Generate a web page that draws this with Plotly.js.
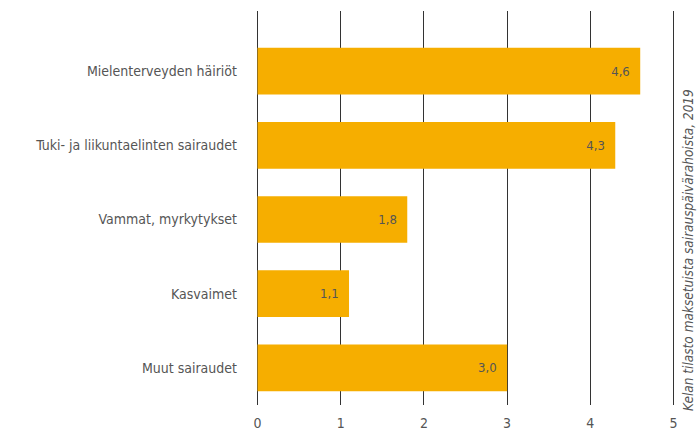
<!DOCTYPE html>
<html>
<head>
<meta charset="utf-8">
<script src="https://cdn.plot.ly/plotly-3.0.1.min.js"></script>
<style>html,body{margin:0;padding:0;background:#fff;}#chart{width:697px;height:432px;}</style>
</head>
<body>
<div id="chart"></div>
<script>
const categories = ["Mielenterveyden häiriöt", "Tuki- ja liikuntaelinten sairaudet", "Vammat, myrkytykset", "Kasvaimet", "Muut sairaudet"];
const values = [4.6, 4.3, 1.8, 1.1, 3.0];
const valueLabels = ["4,6", "4,3", "1,8", "1,1", "3,0"];
const xTicks = [0, 1, 2, 3, 4, 5];
const sourceNote = "Kelan tilasto maksetuista sairauspäivärahoista, 2019";

const FONT = "'DejaVu Sans Condensed', 'Liberation Sans Narrow', sans-serif";

const trace = {
  type: 'bar',
  orientation: 'h',
  y: categories,
  x: values,
  text: valueLabels,
  texttemplate: '%{text}\u00a0\u00a0',
  textposition: 'inside',
  insidetextanchor: 'end',
  textfont: {family: FONT, size: 13, color: '#555'},
  marker: {color: '#F6AE00'},
  hoverinfo: 'none',
  cliponaxis: false
};

const layout = {
  width: 697, height: 432,
  margin: {l: 255, r: 21, t: 11, b: 27},
  paper_bgcolor: '#fff', plot_bgcolor: '#fff',
  bargap: 0.37,
  showlegend: false,
  font: {family: FONT, color: '#555'},
  xaxis: {
    range: [-0.03, 5.03],
    tickvals: xTicks,
    ticktext: xTicks.map(String),
    showgrid: true, gridcolor: '#333', gridwidth: 1,
    zeroline: true, zerolinecolor: '#333', zerolinewidth: 1,
    showline: false,
    ticks: '', ticklabelstandoff: 8,
    tickfont: {family: FONT, size: 14, color: '#555'},
    fixedrange: true
  },
  yaxis: {
    type: 'category',
    range: [4.5, -0.81],
    showgrid: false, zeroline: false, showline: false,
    ticks: '', ticklabelstandoff: 17,
    tickfont: {family: FONT, size: 14, color: '#555'},
    fixedrange: true
  },
  annotations: [{
    text: '<i>' + sourceNote + '</i>',
    xref: 'paper', yref: 'paper',
    x: 1, xshift: 12, y: 0.5, yshift: -42,
    xanchor: 'center', yanchor: 'middle',
    textangle: -90, showarrow: false,
    font: {family: FONT, size: 13.5, color: '#555'}
  }]
};

Plotly.newPlot('chart', [trace], layout, {displayModeBar: false, staticPlot: true});
</script>
</body>
</html>
